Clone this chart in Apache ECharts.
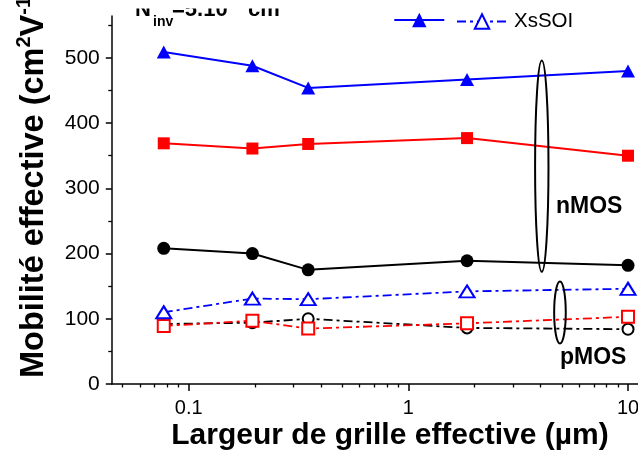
<!DOCTYPE html>
<html><head><meta charset="utf-8">
<script src="https://cdn.jsdelivr.net/npm/echarts@6/dist/echarts.min.js"></script>
<style>html,body{margin:0;padding:0;background:#fff}#c{width:638px;height:458px}</style>
</head><body><div id="c"></div>
<script>
// ---- data ----
const widths = [0.077, 0.195, 0.35, 1.85, 10];           // Largeur de grille effective (µm)
const nXsSOI = [509, 488, 454, 467, 480];                 // nMOS, filled triangles (blue)
const nRed   = [369, 361, 368, 377, 350];                 // nMOS, filled squares (red)
const nBlack = [208, 200, 175, 189, 182];                 // nMOS, filled circles (black)
const pXsSOI = [110, 131, 130, 142, 146];                 // pMOS, open triangles (blue)
const pRed   = [89, 97, 85, 93, 103];                     // pMOS, open squares (red)
const pBlack = [92, 94, 100, 86, 84];                     // pMOS, open circles (black)
const yTicks = [0, 100, 200, 300, 400, 500];
const yMinorTicks = [50, 150, 250, 350, 450, 550];
const xTicks = [0.1, 1, 10];
const xMinorTicks = [0.05,0.06,0.07,0.08,0.09,0.2,0.3,0.4,0.5,0.6,0.7,0.8,0.9,2,3,4,5,6,7,8,9];
// annotation anchors (data space)
const nEllipse = {x: 4.05, y0: 172, y1: 496};
const pEllipse = {x: 4.9, y0: 62, y1: 157};
const nLabel = {x: 4.7, y: 272, text: 'nMOS'};
const pLabel = {x: 4.9, y: 41, text: 'pMOS'};

const FONT = "'Liberation Sans', Arial, Helvetica, sans-serif";
const X_MIN = Math.pow(10, -1.35), X_MAX = Math.pow(10, 1.05), Y_MAX = 564.2;
const dashDot = [9, 4, 3, 4];
const pts = ys => widths.map((x, i) => [x, ys[i]]);

const chart = echarts.init(document.getElementById('c'), null, {renderer: 'canvas'});
const axisCommonX = {type: 'log', logBase: 10, min: X_MIN, max: X_MAX, position: 'bottom', offset: 0,
  splitLine: {show: false}, minorTick: {show: false}, minorSplitLine: {show: false}};
const axisCommonY = {type: 'value', min: 0, max: Y_MAX, position: 'left', offset: 0,
  splitLine: {show: false}, minorTick: {show: false}};

const option = {
  animation: false,
  backgroundColor: '#fff',
  grid: {left: 111.8, top: 16, width: 527.2, height: 368, containLabel: false, outerBoundsMode: 'none'},
  xAxis: [
    Object.assign({}, axisCommonX, {
      axisLine: {show: true, onZero: false, lineStyle: {color: '#000', width: 1.5}},
      axisTick: {show: true, length: 7, customValues: xTicks, lineStyle: {color: '#000', width: 1.5}},
      axisLabel: {show: true, customValues: xTicks, fontSize: 20, color: '#000', margin: 14, fontFamily: FONT,
        hideOverlap: false, formatter: v => String(+(+v).toPrecision(3))}
    }),
    Object.assign({}, axisCommonX, {
      axisLine: {show: false},
      axisTick: {show: true, length: 3.5, customValues: xMinorTicks, lineStyle: {color: '#000', width: 1.3}},
      axisLabel: {show: false}
    })
  ],
  yAxis: [
    Object.assign({}, axisCommonY, {
      axisLine: {show: true, onZero: false, lineStyle: {color: '#000', width: 1.5}},
      axisTick: {show: true, length: 6, customValues: yTicks, lineStyle: {color: '#000', width: 1.5}},
      axisLabel: {show: true, customValues: yTicks, fontSize: 21, color: '#000', margin: 12, fontFamily: FONT}
    }),
    Object.assign({}, axisCommonY, {
      axisLine: {show: false},
      axisTick: {show: true, length: 3.5, customValues: yMinorTicks, lineStyle: {color: '#000', width: 1.3}},
      axisLabel: {show: false}
    })
  ],
  legend: [
    {data: ['nMOS XsSOI'], left: 393.3, top: 11, padding: 0, itemWidth: 50, itemHeight: 18,
     formatter: () => '', textStyle: {fontSize: 19}},
    {data: ['pMOS XsSOI'], left: 456, top: 11, padding: 0, itemWidth: 50, itemHeight: 18,
     formatter: () => 'XsSOI', textStyle: {fontSize: 20.5, color: '#000', fontFamily: FONT, padding: [0, 0, 0, 2]}}
  ],
  series: [
    {name: 'pMOS noir', type: 'line', data: pts(pBlack), symbol: 'emptyCircle', symbolSize: 11,
     lineStyle: {color: '#000', width: 1.8, type: dashDot}, itemStyle: {color: '#000', borderColor: '#000', borderWidth: 1.3}},
    {name: 'pMOS rouge', type: 'line', data: pts(pRed), symbol: 'emptyRect', symbolSize: 12,
     lineStyle: {color: '#ff0000', width: 1.8, type: dashDot}, itemStyle: {color: '#ff0000', borderColor: '#ff0000', borderWidth: 1.3}},
    {name: 'pMOS XsSOI', type: 'line', data: pts(pXsSOI), symbol: 'emptyTriangle', symbolSize: [15, 12],
     lineStyle: {color: '#0000ff', width: 1.8, type: dashDot}, itemStyle: {color: '#0000ff', borderColor: '#0000ff', borderWidth: 1.3}},
    {name: 'nMOS noir', type: 'line', data: pts(nBlack), symbol: 'circle', symbolSize: 13,
     lineStyle: {color: '#000', width: 2}, itemStyle: {color: '#000'}},
    {name: 'nMOS rouge', type: 'line', data: pts(nRed), symbol: 'rect', symbolSize: 12,
     lineStyle: {color: '#ff0000', width: 2}, itemStyle: {color: '#ff0000'}},
    {name: 'nMOS XsSOI', type: 'line', data: pts(nXsSOI), symbol: 'triangle', symbolSize: [14, 13],
     lineStyle: {color: '#0000ff', width: 2}, itemStyle: {color: '#0000ff'}}
  ]
};
chart.setOption(option);

const px = (x, y) => chart.convertToPixel({xAxisIndex: 0, yAxisIndex: 0}, [x, y]);
function ellipse(e, rx) {
  const a = px(e.x, e.y0), b = px(e.x, e.y1);
  return {type: 'ellipse', z: 50, shape: {cx: a[0], cy: (a[1] + b[1]) / 2, rx: rx, ry: Math.abs(a[1] - b[1]) / 2},
    style: {fill: 'none', stroke: '#000', lineWidth: 2}};
}
function label(l) {
  const p = px(l.x, l.y);
  return {type: 'text', z: 50, x: p[0], y: p[1],
    style: {text: l.text, fontSize: 23, fontWeight: 'bold', fill: '#000', fontFamily: FONT, align: 'left', verticalAlign: 'middle'}};
}
const bold = (t, x, y, s) => ({type: 'text', z: 60, x: x, y: y,
  style: {text: t, fontSize: s, fontWeight: 'bold', fill: '#000', fontFamily: FONT, align: 'left', verticalAlign: 'middle'}});

chart.setOption({
  graphic: [
    ellipse(nEllipse, 6.7),
    ellipse(pEllipse, 5.8),
    label(nLabel),
    label(pLabel),
    // N_inv annotation (top cut off as in the original)
    bold('N', 135, 9.5, 22),
    bold('inv', 153, 22.5, 14),
    bold('=5.10', 172, 9.5, 22),
    bold('13', 229, 1, 13),
    bold('cm', 248, 9.5, 22),
    bold('-2', 279, 1, 13),
    {type: 'rect', z: 70, shape: {x: 125, y: -5, width: 180, height: 13.6}, style: {fill: '#fff'}},
    // axis titles
    {type: 'text', z: 50, x: 54, y: 378, rotation: Math.PI / 2,
     style: {text: '{m|Mobilité effective (cm}{s|2}{m|V}{s|-1}{m|s}{s|-1}{m|)}', align: 'left', verticalAlign: 'bottom',
       rich: {m: {fontSize: 32.5, fontWeight: 'bold', fontFamily: FONT, fill: '#000', lineHeight: 40, verticalAlign: 'middle'},
              s: {fontSize: 20, fontWeight: 'bold', fontFamily: FONT, fill: '#000', lineHeight: 18, verticalAlign: 'top'}}}},
    {type: 'text', z: 50, x: 390, y: 436, style: {text: 'Largeur de grille effective (µm)', fontSize: 30, fontWeight: 'bold',
       fill: '#000', fontFamily: FONT, align: 'center', verticalAlign: 'middle'}}
  ]
});
</script></body></html>
